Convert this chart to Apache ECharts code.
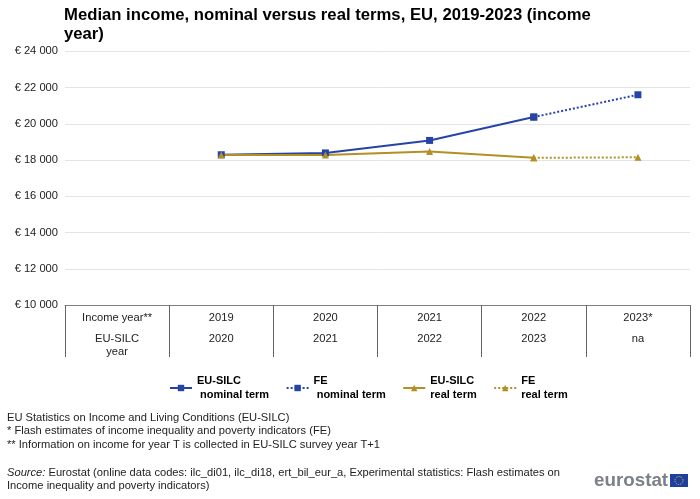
<!DOCTYPE html>
<html>
<head>
<meta charset="utf-8">
<style>html,body{margin:0;padding:0;background:#fff}#main{width:700px;height:499px}</style>
<script src="https://cdn.jsdelivr.net/npm/echarts@6/dist/echarts.min.js"></script>
</head>
<body>
<div id="main"></div>
<script>
var incomeYears = ['Income year**', '2019', '2020', '2021', '2022', '2023*'];
var silcYears = ['EU-SILC\nyear', '2020', '2021', '2022', '2023', 'na'];
var silcNominal = [null, 18290, 18390, 19080, 20370, null];
var feNominal = [null, null, null, null, 20370, 21600];
var silcReal = [null, 18280, 18270, 18470, 18120, null];
var feReal = [null, null, null, null, 18120, 18150];

var font = '"Liberation Sans", Arial, sans-serif';
var blue = '#2644a7';
var gold = '#b39023';
var myChart = echarts.init(document.getElementById('main'));

function euro(v) {
    return '€ ' + String(v).replace(/(\d)(?=(\d{3})$)/, '$1 ');
}

function line(name, data, color, symbol, type) {
    return {
        name: name,
        type: 'line',
        data: data,
        symbol: symbol,
        symbolSize: 7,
        showSymbol: true,
        connectNulls: false,
        animation: false,
        itemStyle: {color: color},
        lineStyle: {color: color, width: 2, type: type}
    };
}

var option = {
    backgroundColor: '#fff',
    textStyle: {fontFamily: font},
    title: [
        {
            text: 'Median income, nominal versus real terms, EU, 2019-2023 (income\nyear)',
            left: 59, top: 0.5,
            textStyle: {fontFamily: font, fontSize: 16.7, fontWeight: 'bold', color: '#000', lineHeight: 19.5}
        },
        {
            text: 'EU Statistics on Income and Living Conditions (EU-SILC)\n* Flash estimates of income inequality and poverty indicators (FE)\n** Information on income for year T is collected in EU-SILC survey year T+1',
            left: 2, top: 406,
            textStyle: {fontFamily: font, fontSize: 11.15, fontWeight: 'normal', color: '#222', lineHeight: 13.5}
        },
        {
            text: '{i|Source:} Eurostat (online data codes: ilc_di01, ilc_di18, ert_bil_eur_a, Experimental statistics: Flash estimates on\nIncome inequality and poverty indicators)',
            left: 2, top: 461,
            textStyle: {
                fontFamily: font, fontSize: 11.15, fontWeight: 'normal', color: '#222', lineHeight: 13.5,
                rich: {i: {fontFamily: font, fontSize: 11.15, fontStyle: 'italic', color: '#222', lineHeight: 13.5}}
            }
        }
    ],
    legend: {
        left: 164, top: 369,
        itemWidth: 22, itemHeight: 8, itemGap: 16.5,
        textStyle: {fontFamily: font, fontSize: 11, fontWeight: 'bold', color: '#000', lineHeight: 14},
        data: ['EU-SILC\n nominal term', 'FE\n nominal term', 'EU-SILC\nreal term', 'FE\nreal term']
    },
    grid: {left: 65, right: 10, top: 51.25, bottom: 194, containLabel: false},
    xAxis: [
        {
            type: 'category',
            data: incomeYears,
            position: 'bottom',
            axisLine: {show: true, lineStyle: {color: '#7f7f7f', width: 1}},
            axisTick: {show: true, length: 52, lineStyle: {color: '#666', width: 1}},
            axisLabel: {interval: 0, margin: 6, fontFamily: font, fontSize: 11.15, color: '#222', lineHeight: 13}
        },
        {
            type: 'category',
            data: silcYears,
            position: 'bottom',
            offset: 20,
            axisLine: {show: false},
            axisTick: {show: false},
            axisLabel: {interval: 0, margin: 7, fontFamily: font, fontSize: 11.15, color: '#222', lineHeight: 13}
        }
    ],
    yAxis: {
        type: 'value',
        min: 10000, max: 24000, interval: 2000,
        axisLine: {show: false},
        axisTick: {show: false},
        splitLine: {lineStyle: {color: '#e4e4e4', width: 1}},
        axisLabel: {margin: 7, fontFamily: font, fontSize: 11.15, color: '#222', formatter: euro}
    },
    series: [
        line('EU-SILC\n nominal term', silcNominal, blue, 'rect', 'solid'),
        line('FE\n nominal term', feNominal, blue, 'rect', 'dotted'),
        line('EU-SILC\nreal term', silcReal, gold, 'triangle', 'solid'),
        line('FE\nreal term', feReal, gold, 'triangle', 'dotted')
    ],
    graphic: [
        {
            type: 'text', left: 594, top: 471,
            style: {text: 'eurostat', fontFamily: font, fontSize: 18.8, fontWeight: 'bold', fill: '#7c8088'}
        },
        {type: 'rect', shape: {x: 670, y: 474, width: 18, height: 13}, style: {fill: '#1f3f9f'}},
        {
            type: 'circle', shape: {cx: 679, cy: 480.5, r: 4},
            style: {fill: 'none', stroke: '#e8c820', lineWidth: 1, lineDash: [1, 1.1]}
        }
    ]
};
myChart.setOption(option);
</script>
</body>
</html>
